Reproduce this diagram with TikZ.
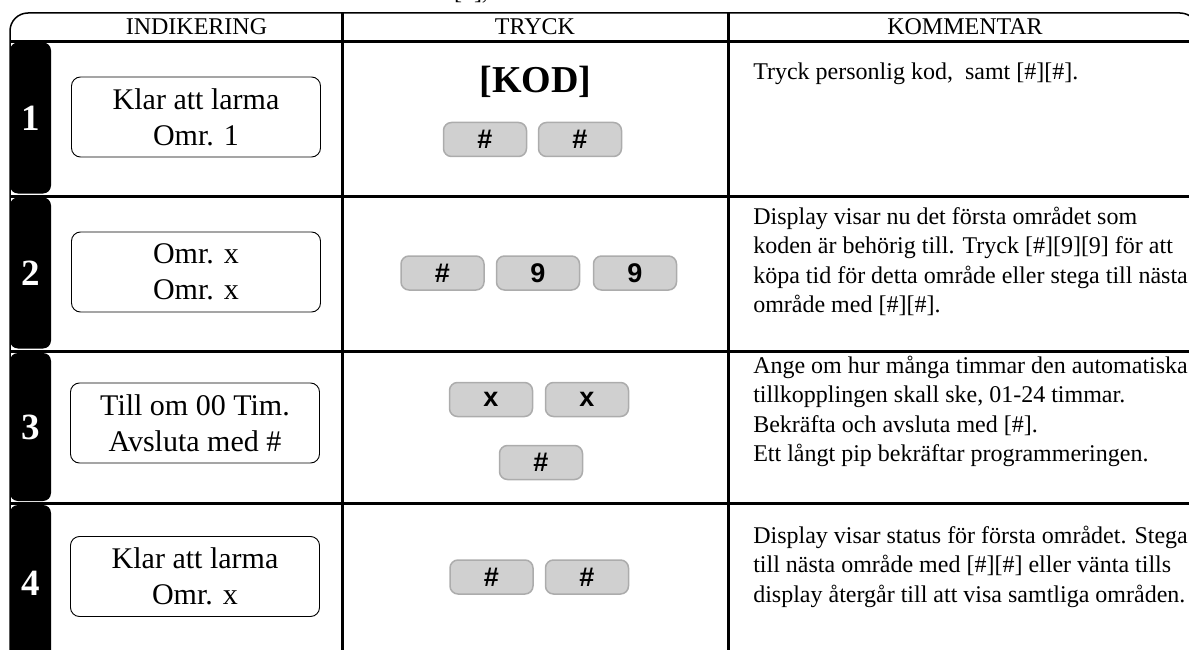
\documentclass[tikz,border=0pt]{standalone}
\usepackage{fontspec}
\setmainfont{Liberation Serif}
\newfontfamily\keyfam{Liberation Sans}
\usepackage{tikz}
\usetikzlibrary{positioning}
\definecolor{keyfill}{RGB}{208,208,208}
\definecolor{keyedge}{RGB}{172,172,172}
\newcommand\cellfont{\fontsize{24}{29.5}\selectfont}
\newcommand\lcdfont{\fontsize{30}{36}\selectfont}
\newcommand\keyfont{\keyfam\bfseries\fontsize{27}{27}\selectfont}
\newcommand\tabfont{\bfseries\fontsize{37}{37}\selectfont}
\newcommand\kodfont{\bfseries\fontsize{38}{38}\selectfont}
\tikzset{every picture/.style={line width=0.5pt}}
\tikzstyle{lcd}=[draw,rounded corners=9pt,line width=0.9pt,minimum width=249pt,minimum height=80pt,align=center,font=\lcdfont]
\tikzstyle{key}=[draw=keyedge,fill=keyfill,line width=1.5pt,rounded corners=8pt,minimum width=83pt,minimum height=34pt,inner sep=0pt,font=\keyfont]
\tikzstyle{tab}=[fill=black,rounded corners=8pt,minimum width=41pt,inner sep=0pt,text=white,font=\tabfont]
\tikzstyle{note}=[anchor=base west,align=left,inner sep=0pt,font=\cellfont]
\tikzstyle{head}=[anchor=base,inner sep=0pt,font=\cellfont]
\begin{document}
\begin{tikzpicture}[x=1pt,y=-1pt]
\useasboundingbox (0,0) rectangle (1189,650);
\clip (0,0) rectangle (1189,650);
\draw[line width=1.5pt,rounded corners=18pt] (10,660) -- (10,13) -- (1198,13) -- (1198,660);
\draw[line width=3pt] (10,42) -- (1198,42) (10,196) -- (1198,196) (10,351) -- (1198,351) (10,503) -- (1198,503);
\draw[line width=3pt] (342,13) -- (342,660) (728,13) -- (728,660);
\node[head] (top) at (471,0) {[\#],};
\node[head] (hInd) at (196.5,35) {INDIKERING};
\node[head] (hTry) at (535,35) {TRYCK};
\node[head] (hKom) at (965,35) {KOMMENTAR};
\node[tab,minimum height=151pt] (t1) at (30.5,118) {1};
\node[tab,minimum height=151pt] (t2) at (30.5,273) {2};
\node[tab,minimum height=148pt] (t3) at (30.5,427) {3};
\node[tab,minimum height=156pt] (t4) at (30.5,583) {4};
\node[lcd] (d1) at (196,117) {Klar att larma\\Omr. 1};
\node[lcd] (d2) at (196,272) {Omr. x\\Omr. x};
\node[lcd] (d3) at (195,423) {Till om 00 Tim.\\Avsluta med \#};
\node[lcd] (d4) at (195,576.5) {Klar att larma\\Omr. x};
\node[anchor=base,inner sep=0pt,font=\kodfont] (kod) at (535.5,93) {[KOD]};
\node[key] (k1a) at (485,139.5) {\#};
\node[key] (k1b) at (580,139.5) {\#};
\node[key] (k2a) at (442.5,273) {\#};
\node[key] (k2b) at (538,273) {9};
\node[key] (k2c) at (635,273) {9};
\node[key] (k3a) at (491,399.5) {x};
\node[key] (k3b) at (587,399.5) {x};
\node[key] (k3c) at (541,462.5) {\#};
\node[key] (k4a) at (491.5,577) {\#};
\node[key] (k4b) at (587,577) {\#};
\node[note] (c1) at (753,80) {Tryck personlig kod,\ \ samt [\#][\#].};
\node[note] (c2) at (753,312.5) {Display visar nu det första området som\\koden är behörig till. Tryck [\#][9][9] för att\\köpa tid för detta område eller stega till nästa\\område med [\#][\#].};
\node[note] (c3) at (753,461.5) {Ange om hur många timmar den automatiska\\tillkopplingen skall ske, 01-24 timmar.\\Bekräfta och avsluta med [\#].\\Ett långt pip bekräftar programmeringen.};
\node[note] (c4) at (753,602) {Display visar status för första området. Stega\\till nästa område med [\#][\#] eller vänta tills\\display återgår till att visa samtliga områden.};
\end{tikzpicture}
\end{document}
